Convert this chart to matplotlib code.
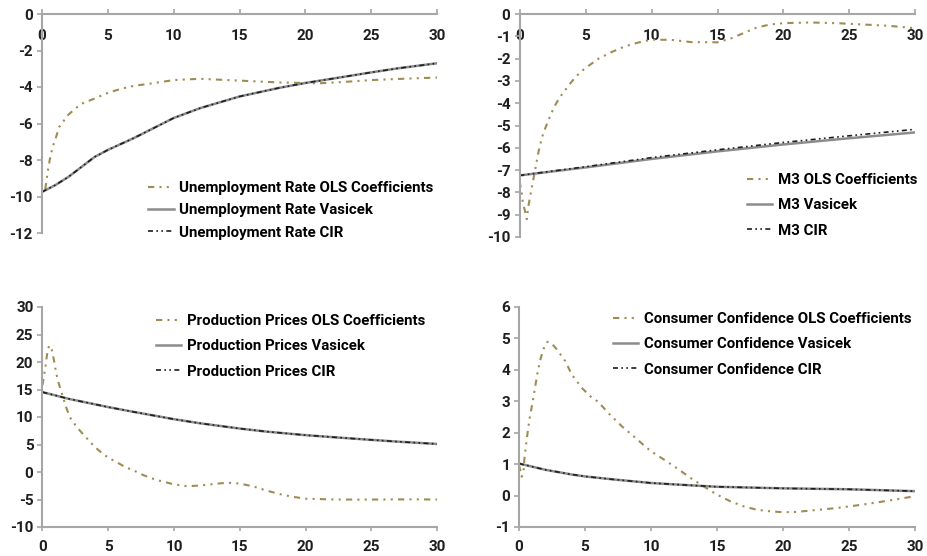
import matplotlib
matplotlib.use("Agg")
import matplotlib.pyplot as plt

plt.rcParams['font.family'] = ['Roboto', 'DejaVu Sans']
plt.rcParams['font.weight'] = 'bold'
plt.rcParams['axes.unicode_minus'] = False

# term structure of coefficients, maturity in years
u_ols_x = [0.25, 0.4, 0.5, 0.6, 0.8, 1, 1.3, 1.6, 2, 2.5, 3, 4, 5, 6, 7, 8, 10, 12, 15, 18, 20, 21, 23, 25, 27, 30]
u_ols = [-9.6, -8.8, -8.35, -7.95, -7.3, -6.9, -6.2, -5.9, -5.52, -5.2, -4.92, -4.63, -4.32, -4.1, -3.93, -3.84,
         -3.62, -3.55, -3.65, -3.75, -3.78, -3.8, -3.72, -3.62, -3.56, -3.48]
u_x = [0, 1, 2, 3, 4, 5, 7, 10, 12, 15, 18, 20, 22, 25, 27, 30]
u_vas = [-9.75, -9.38, -8.93, -8.38, -7.83, -7.45, -6.79, -5.7, -5.16, -4.52, -4.05, -3.78, -3.55, -3.2, -2.98, -2.7]
u_cir = [-9.75, -9.38, -8.93, -8.38, -7.83, -7.45, -6.79, -5.7, -5.16, -4.52, -4.05, -3.78, -3.55, -3.2, -2.98, -2.7]

m_ols_x = [0, 0.15, 0.25, 0.4, 0.55, 0.65, 0.8, 1, 1.2, 1.5, 1.8, 2.2, 2.6, 3, 3.5, 4, 4.5, 5, 6, 7, 8, 9, 10,
           11.5, 13, 15, 16, 17, 18, 19, 20, 22, 24, 26, 28, 30]
m_ols = [-7.5, -7.95, -8.44, -8.8, -9.2, -8.7, -8.2, -7.57, -6.94, -6.0, -5.35, -4.75, -4.2, -3.78, -3.38, -3.0,
         -2.67, -2.42, -2.0, -1.7, -1.45, -1.28, -1.15, -1.16, -1.26, -1.27, -1.1, -0.85, -0.6, -0.47, -0.41,
         -0.38, -0.41, -0.47, -0.53, -0.64]
m_x = [0, 5, 10, 15, 20, 25, 30]
m_vas = [-7.24, -6.88, -6.5, -6.16, -5.85, -5.57, -5.31]
m_cir = [-7.24, -6.85, -6.44, -6.09, -5.76, -5.46, -5.17]

p_ols_x = [0, 0.1, 0.25, 0.4, 0.55, 0.7, 0.85, 1.05, 1.2, 1.4, 1.65, 1.85, 2.15, 2.6, 3, 3.5, 4, 4.5, 5, 5.7,
           6.3, 7, 7.7, 8.3, 9, 10, 11, 12, 13, 14, 15, 16, 17, 18, 19, 20, 22, 24, 26, 28, 30]
p_ols = [15.8, 17.3, 19.6, 22.4, 23.0, 22.3, 20.6, 17.9, 16.4, 14.8, 12.9, 11.4, 9.7, 8.2, 7.1, 5.8, 4.5, 3.5,
         2.6, 1.7, 0.9, 0.2, -0.6, -1.15, -1.65, -2.25, -2.6, -2.45, -2.2, -1.95, -2.1, -2.6, -3.35, -4.0,
         -4.5, -4.85, -4.98, -5.02, -5.0, -4.97, -5.0]
p_x = [0, 2, 5, 7, 10, 12, 15, 17, 20, 22, 25, 27, 30]
p_vas = [14.52, 13.3, 11.8, 10.9, 9.6, 8.85, 7.9, 7.35, 6.7, 6.35, 5.84, 5.52, 5.1]
p_cir = [14.52, 13.3, 11.8, 10.9, 9.6, 8.85, 7.9, 7.35, 6.7, 6.35, 5.84, 5.52, 5.1]

c_ols_x = [0, 0.1, 0.2, 0.33, 0.4, 0.5, 0.65, 0.8, 1, 1.2, 1.4, 1.6, 1.85, 2.15, 2.45, 2.85, 3.5, 4, 4.75,
           5.4, 6, 6.9, 7.8, 8.7, 9.6, 10, 11, 12, 13, 14, 15, 16, 17, 18, 19, 20, 21, 22, 24, 26, 28, 30]
c_ols = [0.97, 0.8, 0.6, 0.72, 1.13, 1.5, 2.0, 2.45, 2.9, 3.4, 3.9, 4.3, 4.66, 4.89, 4.85, 4.66, 4.28, 3.85,
         3.43, 3.16, 2.98, 2.57, 2.2, 1.88, 1.55, 1.41, 1.14, 0.86, 0.56, 0.29, 0.03, -0.18, -0.34, -0.45,
         -0.5, -0.53, -0.52, -0.48, -0.4, -0.29, -0.16, -0.02]
c_x = [0, 2, 4, 5, 7, 10, 12, 15, 20, 25, 30]
c_vas = [1.02, 0.82, 0.67, 0.61, 0.52, 0.4, 0.35, 0.28, 0.23, 0.2, 0.14]
c_cir = [1.02, 0.82, 0.67, 0.61, 0.52, 0.4, 0.35, 0.28, 0.23, 0.2, 0.14]

GOLD = '#a08b52'
GREY = '#8c8c8c'
INK = '#1e1e1e'
SPINE = '#a6a6a6'

W, H = 928, 556
fig = plt.figure(figsize=(W / 100, H / 100), dpi=100)


def px_axes(x0, y0, x1, y1):
    return fig.add_axes([x0 / W, 1 - y1 / H, (x1 - x0) / W, (y1 - y0) / H])


def panel(ax, name, ols_x, ols, x, vas, cir, ylim, yticks, top_axis, leg_xy, spacing):
    ax.plot(ols_x, ols, color=GOLD, lw=1.5, dashes=(3, 2.5, 1, 2.5, 1, 2.5),
            label=name + ' OLS Coefficients')
    ax.plot(x, vas, color=GREY, lw=1.8, label=name + ' Vasicek')
    ax.plot(x, cir, color=INK, lw=1.2, dashes=(3, 2, 1, 2, 1, 2), label=name + ' CIR')
    ax.set_xlim(0, 30)
    ax.set_ylim(*ylim)
    ax.set_xticks(range(0, 31, 5))
    ax.set_yticks(yticks)
    for s in ['top', 'right']:
        ax.spines[s].set_visible(False)
    for s in ['left', 'bottom']:
        ax.spines[s].set_color(SPINE)
        ax.spines[s].set_linewidth(1.5)
    if top_axis:
        # category axis crosses at zero, which is the top of these panels
        ax.spines['bottom'].set_position(('data', 0))
        ax.tick_params(axis='x', direction='in', length=3.5, pad=10.5)
    else:
        ax.tick_params(axis='x', direction='out', length=3, pad=6.5)
    ax.tick_params(axis='y', direction='out', length=3.5, pad=3)
    ax.tick_params(colors=SPINE, width=1.2, labelcolor=INK, labelsize=11)
    ax.patch.set_visible(False)
    ax.legend(loc='upper left', bbox_to_anchor=(leg_xy[0] / W, 1 - leg_xy[1] / H),
              bbox_transform=fig.transFigure, frameon=False, fontsize=10.8,
              handlelength=1.7, handletextpad=0.35, labelspacing=spacing,
              borderpad=0, borderaxespad=0)


ax1 = px_axes(42, 14, 437, 233)
panel(ax1, 'Unemployment Rate', u_ols_x, u_ols, u_x, u_vas, u_cir,
      (-12, 0), range(-12, 1, 2), True, (148, 181), 0.55)

ax2 = px_axes(519.5, 14, 915.5, 237)
panel(ax2, 'M3', m_ols_x, m_ols, m_x, m_vas, m_cir,
      (-10, 0), range(-10, 1, 1), True, (747, 173), 0.75)

ax3 = px_axes(42.5, 307, 437, 527)
panel(ax3, 'Production Prices', p_ols_x, p_ols, p_x, p_vas, p_cir,
      (-10, 30), range(-10, 31, 5), False, (156, 314), 0.75)

ax4 = px_axes(519, 307, 915, 527)
panel(ax4, 'Consumer Confidence', c_ols_x, c_ols, c_x, c_vas, c_cir,
      (-1, 6), range(-1, 7, 1), False, (613, 312), 0.75)

fig.savefig('out.png', dpi=100)
